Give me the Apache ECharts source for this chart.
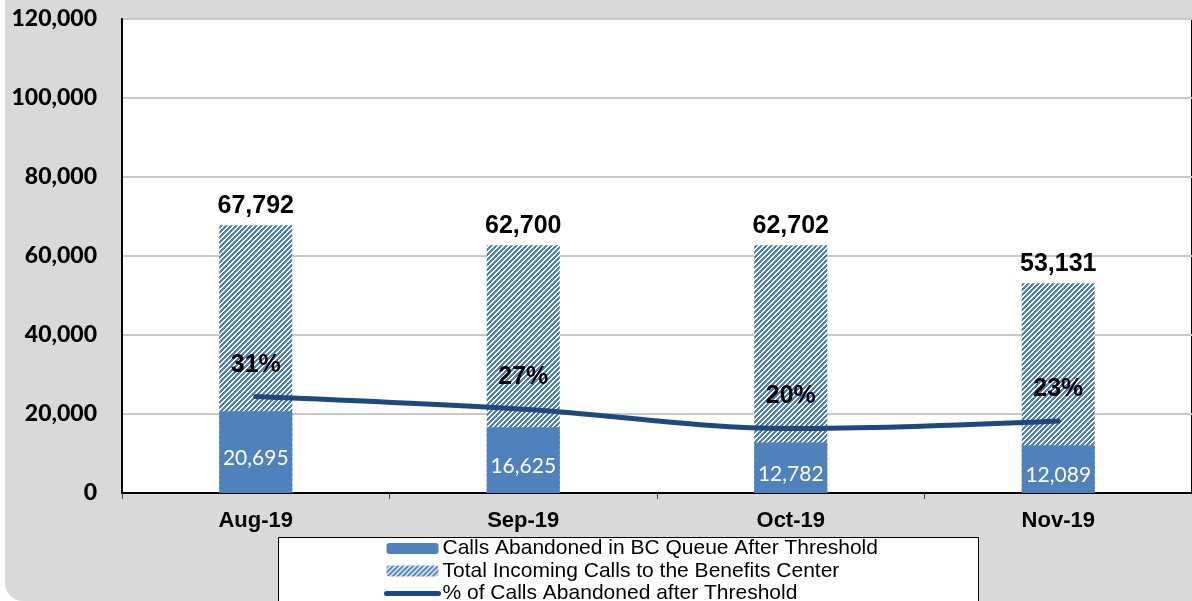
<!DOCTYPE html>
<html>
<head>
<meta charset="utf-8">
<script src="https://cdn.jsdelivr.net/npm/echarts@6/dist/echarts.min.js"></script>
<style>html,body{margin:0;padding:0;background:#fff;}#c{width:1192px;height:601px;}</style>
</head>
<body>
<div id="c"></div>
<script>
var categories = ['Aug-19', 'Sep-19', 'Oct-19', 'Nov-19'];
var abandoned = [20695, 16625, 12782, 12089];
var totalIncoming = [67792, 62700, 62702, 53131];
var pctAbandoned = [0.305, 0.265, 0.204, 0.228];
var yTicks = { min: 0, max: 120000, interval: 20000 };
var names = ['Calls Abandoned in BC Queue After Threshold', 'Total Incoming Calls to the Benefits Center', '% of Calls Abandoned after Threshold'];

var BLUE = '#4f81bd';
var NAVY = '#1f497d';

// hatched pattern tile
var P = 5;
var tile = document.createElement('canvas');
tile.width = P; tile.height = P;
var tctx = tile.getContext('2d');
tctx.fillStyle = '#ffffff';
tctx.fillRect(0, 0, P, P);
tctx.fillStyle = BLUE;
for (var px = 0; px < P; px++) {
  for (var py = 0; py < P; py++) {
    if ((px + py) % P < 3) tctx.fillRect(px, py, 1, 1);
  }
}
var hatch = { image: tile, repeat: 'repeat' };

var chart = echarts.init(document.getElementById('c'), null, { renderer: 'canvas' });
chart.setOption({
  backgroundColor: '#ffffff',
  animation: false,
  graphic: [
    { type: 'rect', z: -10, shape: { x: 5, y: -40, width: 1300, height: 641, r: 18 }, style: { fill: '#d9d9d9' } },
    { type: 'rect', z: 1, shape: { x: 278.5, y: 537.5, width: 700, height: 100 }, style: { fill: '#ffffff', stroke: '#000000', lineWidth: 1 } }
  ],
  grid: { left: 122, top: 19, right: -6, bottom: 108, show: true, backgroundColor: '#ffffff', borderColor: '#000000', borderWidth: 2 },
  legend: {
    orient: 'vertical', left: 384, top: 538, padding: 0, height: 200, width: 700,
    itemWidth: 52, itemHeight: 11, itemGap: 1.5,
    data: [
      { name: names[0] },
      { name: names[1] },
      { name: names[2], itemStyle: { opacity: 0 }, lineStyle: { width: 5, cap: 'round' } }
    ],
    textStyle: { fontFamily: 'Liberation Sans', fontSize: 21, color: '#000', lineHeight: 21, padding: [0, 0, 0, -1] }
  },
  xAxis: {
    type: 'category', data: categories,
    axisLine: { show: true, lineStyle: { color: '#000', width: 2 } },
    axisTick: { show: true, length: 6, lineStyle: { color: '#444', width: 1 } },
    axisLabel: { fontFamily: 'Liberation Sans', fontWeight: 'bold', fontSize: 22, color: '#000', margin: 17 }
  },
  yAxis: [
    {
      type: 'value', min: yTicks.min, max: yTicks.max, interval: yTicks.interval,
      axisLine: { show: true, lineStyle: { color: '#000', width: 2 } },
      axisTick: { show: false },
      splitLine: { lineStyle: { color: '#c8c8c8', width: 2 } },
      axisLabel: { fontFamily: 'Lato', fontWeight: 900, fontSize: 23, color: '#000', margin: 25,
        formatter: function (v) { return v.toLocaleString('en-US'); } }
    },
    { type: 'value', min: 0, max: 1.5, show: false, splitLine: { show: false } }
  ],
  series: [
    {
      name: names[1], type: 'bar', data: totalIncoming, barWidth: 73, z: 2,
      itemStyle: { color: hatch },
      label: { show: true, position: 'top', distance: 7, fontFamily: 'Liberation Sans', fontWeight: 'bold', fontSize: 25, color: '#000',
        formatter: function (p) { return p.value.toLocaleString('en-US'); } }
    },
    {
      name: names[0], type: 'bar', data: abandoned, barWidth: 73, barGap: '-100%', z: 3,
      itemStyle: { color: BLUE },
      label: { show: true, position: 'inside', offset: [0, 6], fontFamily: 'Lato', fontSize: 21, color: '#fff',
        formatter: function (p) { return p.value.toLocaleString('en-US'); } }
    },
    {
      name: names[2], type: 'line', yAxisIndex: 1, data: pctAbandoned, smooth: 0.35, z: 5,
      symbol: 'circle', symbolSize: 1, showSymbol: true,
      lineStyle: { color: NAVY, width: 5, cap: 'round' },
      itemStyle: { color: NAVY },
      label: { show: true, position: 'top', distance: 19, fontFamily: 'Liberation Sans', fontWeight: 'bold', fontSize: 25, color: '#000',
        formatter: function (p) { return Math.round(p.value * 100) + '%'; } }
    }
  ]
});
</script>
</body>
</html>
